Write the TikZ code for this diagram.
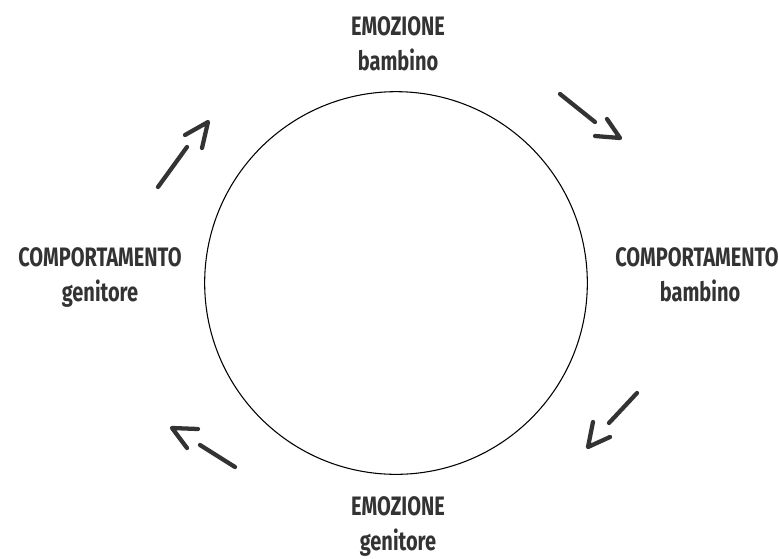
\documentclass[tikz,border=0pt]{standalone}
\usepackage{fontspec}
\setmainfont[FakeStretch=0.75]{Fira Sans}
\definecolor{ink}{HTML}{333333}
\begin{document}
\begin{tikzpicture}[x=0.75pt,y=-0.75pt,
  lbl/.style={text=ink,font=\bfseries\fontsize{20}{23}\selectfont,inner sep=0pt,anchor=base},
  stroke/.style={draw=ink,line width=3.2pt,line cap=round,line join=round}]
\useasboundingbox (0,0) rectangle (779,558);
\node[draw=black,line width=0.8pt,circle,minimum size=287pt,inner sep=0pt] (c) at (396,283) {};
% labels
\node[lbl] (t1) at (398,35) {EMOZIONE};
\node[lbl] (t2) at (398,70) {bambino};
\node[lbl] (r1) at (697,266) {COMPORTAMENTO};
\node[lbl] (r2) at (700,301) {bambino};
\node[lbl] (b1) at (398,515) {EMOZIONE};
\node[lbl] (b2) at (398,550) {genitore};
\node[lbl] (l1) at (100,266) {COMPORTAMENTO};
\node[lbl] (l2) at (100,301) {genitore};
% arrows (hand-drawn)
\coordinate (a1s) at (560,94); \coordinate (a1e) at (595,122);
\coordinate (a1t) at (620,138);
\draw[stroke] (a1s) -- (a1e);
\draw[stroke] (607,119) -- (a1t) -- (595,136);
\coordinate (a2s) at (637,393); \coordinate (a2e) at (609,423);
\coordinate (a2t) at (588,447);
\draw[stroke] (a2s) -- (a2e);
\draw[stroke] (593,422) -- (a2t) -- (610,437);
\coordinate (a3s) at (235,467); \coordinate (a3e) at (200,445);
\coordinate (a3t) at (172,428);
\draw[stroke] (a3s) -- (a3e);
\draw[stroke] (198,429) -- (a3t) -- (187,448);
\coordinate (a4s) at (158,187); \coordinate (a4e) at (187,147);
\coordinate (a4t) at (208,122);
\draw[stroke] (a4s) -- (a4e);
\draw[stroke] (185,135) -- (a4t) -- (202,148);
\end{tikzpicture}
\end{document}
